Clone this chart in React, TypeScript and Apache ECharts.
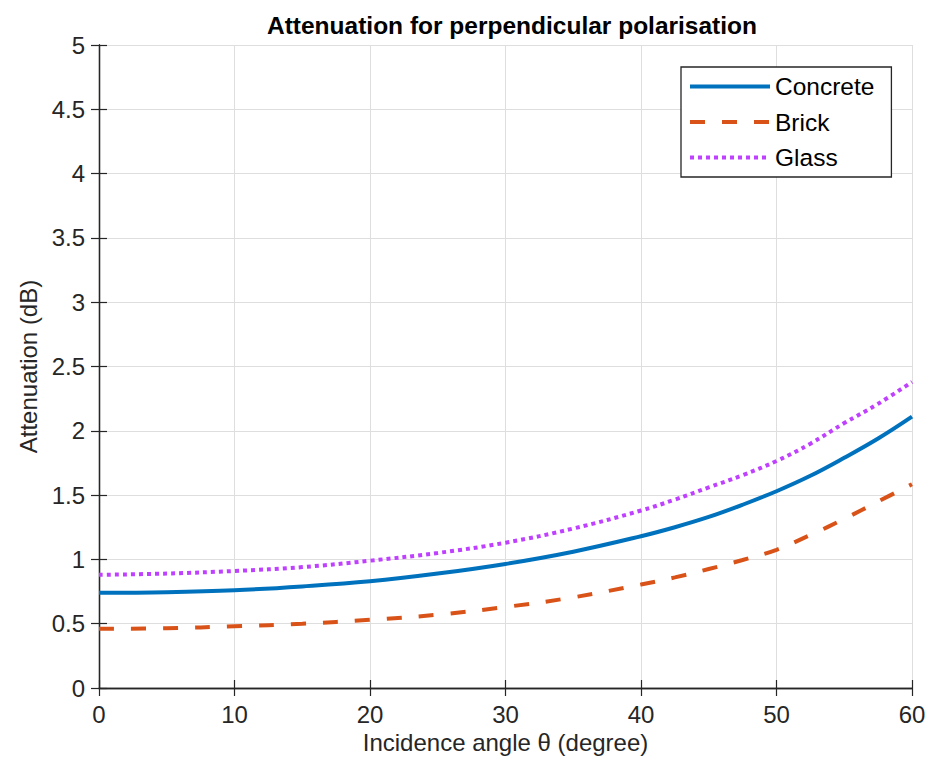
import React, { useEffect, useRef } from "react";
import * as echarts from "echarts";

const angles = [0, 5, 10, 15, 20, 25, 30, 35, 40, 42.5, 45, 47.5, 50, 52.5, 55, 57.5, 60];
const concrete = [0.74, 0.745, 0.76, 0.79, 0.83, 0.89, 0.965, 1.06, 1.18, 1.25, 1.33, 1.425, 1.53, 1.65, 1.79, 1.94, 2.11];
const brick = [0.46, 0.465, 0.48, 0.5, 0.53, 0.57, 0.63, 0.705, 0.805, 0.86, 0.925, 0.995, 1.075, 1.19, 1.315, 1.45, 1.585];
const glass = [0.88, 0.89, 0.91, 0.94, 0.99, 1.05, 1.13, 1.24, 1.38, 1.465, 1.56, 1.655, 1.765, 1.9, 2.06, 2.21, 2.38];

const FONT = "Liberation Sans, Arial, Helvetica, sans-serif";
const AX = "#262626";
const C_CONCRETE = "#0072BD";
const C_BRICK = "#D95319";
const C_GLASS = "#BF40FF";
const DASH_BRICK = [15, 17];
const DASH_GLASS = [4, 4];

export default function App() {
  const ref = useRef<HTMLDivElement>(null);
  useEffect(() => {
    const chart = echarts.init(ref.current!, null, { renderer: "svg" });
    const pair = (ys: number[]) => angles.map((a, i) => [a, ys[i]]);
    const baseX = {
      type: "value",
      min: 0,
      max: 60,
      interval: 10,
      axisLine: { show: true, lineStyle: { color: AX, width: 1.3 } },
      axisTick: { show: true, inside: true, length: 8, lineStyle: { color: AX, width: 1.2 } },
    };
    const baseY = {
      type: "value",
      min: 0,
      max: 5,
      interval: 0.5,
      axisLine: { show: true, lineStyle: { color: AX, width: 1.3 } },
      axisTick: { show: true, inside: true, length: 8, lineStyle: { color: AX, width: 1.2 } },
    };
    chart.setOption({
      animation: false,
      backgroundColor: "#ffffff",
      textStyle: { fontFamily: FONT },
      title: {
        text: "Attenuation for perpendicular polarisation",
        left: 507,
        textAlign: "center",
        top: 8,
        textStyle: { fontFamily: FONT, fontSize: 24.5, fontWeight: "bold", color: "#000" },
      },
      legend: {
        orient: "vertical",
        left: 681,
        top: 67,
        itemWidth: 80,
        itemHeight: 25,
        itemGap: 10.5,
        padding: [7, 17, 7, 7],
        backgroundColor: "#ffffff",
        borderColor: AX,
        borderWidth: 1.3,
        borderRadius: 0,
        itemStyle: { opacity: 0 },
        textStyle: { fontFamily: FONT, fontSize: 24.5, color: "#000", lineHeight: 25 },
        data: [
          { name: "Concrete", lineStyle: { color: C_CONCRETE, width: 4, type: "solid" } },
          { name: "Brick", lineStyle: { color: C_BRICK, width: 4, type: DASH_BRICK } },
          { name: "Glass", lineStyle: { color: C_GLASS, width: 4, type: DASH_GLASS } },
        ],
      },
      grid: { left: 99, right: 24, top: 45, bottom: 83, containLabel: false },
      xAxis: [
        {
          ...baseX,
          position: "bottom",
          name: "Incidence angle θ (degree)",
          nameLocation: "middle",
          nameGap: 36,
          nameTextStyle: { fontFamily: FONT, fontSize: 24, color: AX },
          axisLabel: { color: AX, fontSize: 24, fontFamily: FONT, margin: 14 },
          splitLine: { show: true, lineStyle: { color: "#dedede", width: 1 } },
        },
        {
          ...baseX,
          position: "top",
          axisLabel: { show: false },
          splitLine: { show: false },
        },
      ],
      yAxis: [
        {
          ...baseY,
          position: "left",
          name: "Attenuation (dB)",
          nameLocation: "middle",
          nameGap: 58,
          nameTextStyle: { fontFamily: FONT, fontSize: 24, color: AX },
          axisLabel: { color: AX, fontSize: 24, fontFamily: FONT, margin: 14 },
          splitLine: { show: true, lineStyle: { color: "#dedede", width: 1 } },
        },
        {
          ...baseY,
          position: "right",
          axisLabel: { show: false },
          splitLine: { show: false },
        },
      ],
      series: [
        {
          name: "Concrete",
          type: "line",
          data: pair(concrete),
          smooth: 0.4,
          symbol: "none",
          color: C_CONCRETE,
          lineStyle: { color: C_CONCRETE, width: 4 },
        },
        {
          name: "Brick",
          type: "line",
          data: pair(brick),
          smooth: 0.4,
          symbol: "none",
          color: C_BRICK,
          lineStyle: { color: C_BRICK, width: 4, type: DASH_BRICK },
        },
        {
          name: "Glass",
          type: "line",
          data: pair(glass),
          smooth: 0.4,
          symbol: "none",
          color: C_GLASS,
          lineStyle: { color: C_GLASS, width: 4, type: DASH_GLASS },
        },
      ],
    });
    return () => chart.dispose();
  }, []);
  return <div ref={ref} style={{ width: 936, height: 771, position: "absolute", left: 0, top: 0 }} />;
}
